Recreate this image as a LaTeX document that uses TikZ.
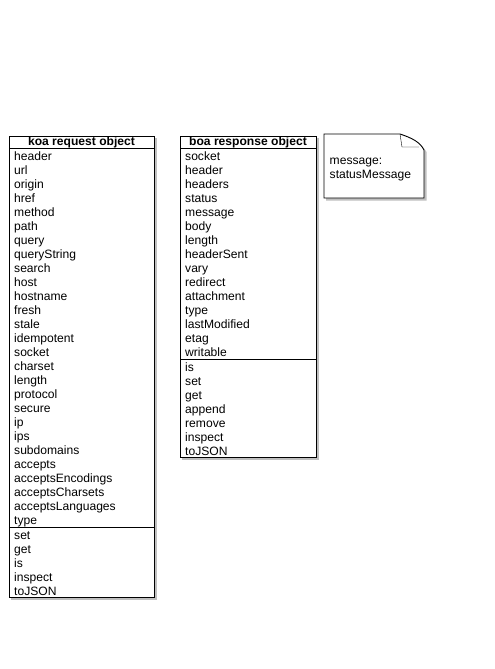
\documentclass[tikz,border=0pt]{standalone}
\usepackage{fontspec}
\setmainfont{Liberation Sans}
\usetikzlibrary{positioning}

\tikzset{
  member/.style={anchor=base west, inner sep=0pt, font=\fontsize{12.1}{14}\selectfont},
  classtitle/.style={anchor=base, inner sep=0pt, font=\bfseries\fontsize{12.1}{14}\selectfont},
  boxshadow/.style={fill=black!25, draw=none},
  boxframe/.style={fill=white, draw=black, line width=0.9pt},
}

\begin{document}
\begin{tikzpicture}[x=1pt,y=-1pt]
\useasboundingbox (0,0) rectangle (495,669);

% koa request object
\fill[boxshadow] (11,138) rectangle (156.5,599.5);
\filldraw[boxframe] (9,136) rectangle (154,597);
\draw (9,148) -- (154,148);
\draw (9,527) -- (154,527);
\node[classtitle] (reqtitle) at (81.5,145.5) {koa request object};
\foreach \name [count=\i] in {header,url,origin,href,method,path,query,queryString,search,host,hostname,fresh,stale,idempotent,socket,charset,length,protocol,secure,ip,ips,subdomains,accepts,acceptsEncodings,acceptsCharsets,acceptsLanguages,type}
  \node[member] (reqprop\i) at (14,146.5+14*\i) {\name};
\foreach \name [count=\i] in {set,get,is,inspect,toJSON}
  \node[member] (reqmeth\i) at (14,525.5+14*\i) {\name};

% boa response object
\fill[boxshadow] (182,138) rectangle (318.5,459.5);
\filldraw[boxframe] (180,136) rectangle (316,457);
\draw (180,148) -- (316,148);
\draw (180,359) -- (316,359);
\node[classtitle] (restitle) at (248,145.5) {boa response object};
\foreach \name [count=\i] in {socket,header,headers,status,message,body,length,headerSent,vary,redirect,attachment,type,lastModified,etag,writable}
  \node[member] (resprop\i) at (185,146.5+14*\i) {\name};
\foreach \name [count=\i] in {is,set,get,append,remove,inspect,toJSON}
  \node[member] (resmeth\i) at (185,357.5+14*\i) {\name};

% note
\fill[boxshadow] (326,136) -- (402,136) .. controls (414,140) and (422,144) .. (426.5,152) -- (426.5,200.5) -- (326,200.5) -- cycle;
\filldraw[boxframe] (324,134) -- (400,134) .. controls (412,138) and (420,142) .. (424,150) -- (424,198) -- (324,198) -- cycle;
\draw (400,134) -- (402,147) -- (419,147);
\node[member, align=left] (note) at (329.5,178) {message:\\statusMessage};

\end{tikzpicture}
\end{document}
